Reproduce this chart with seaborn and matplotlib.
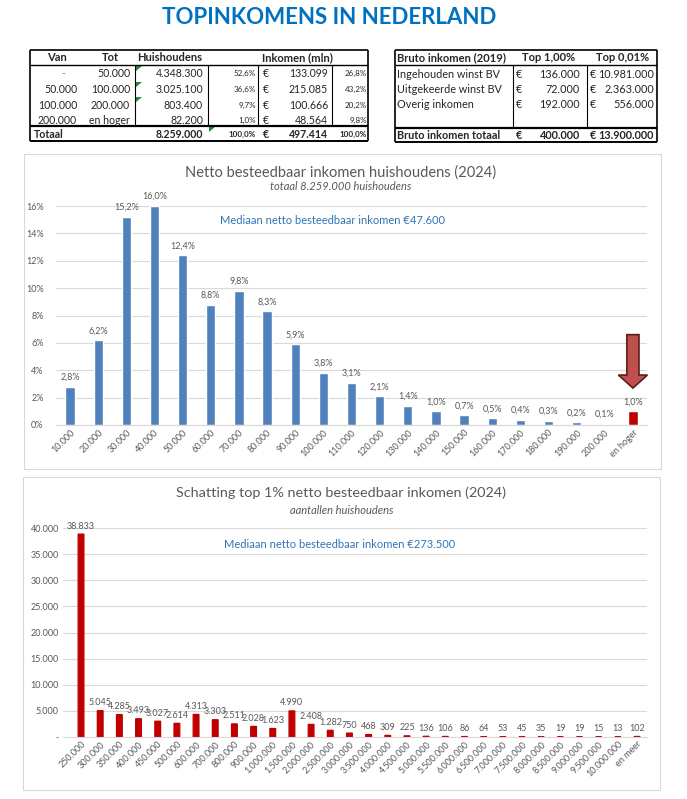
import matplotlib.pyplot as plt
import matplotlib.patches as mpatches
from matplotlib.ticker import FuncFormatter
import pandas as pd
import seaborn as sns

# figure size in pixels (dpi 100)
W, H = 687, 799

BLUE = "#4F81BD"
RED = "#C00000"
GRAY = "#595959"
GRID = "#D9D9D9"
NOTE_BLUE = "#2E75B6"

# left table: households and income per bracket
tbl_van = ["-", "50.000", "100.000", "200.000"]
tbl_tot = ["50.000", "100.000", "200.000", "en hoger"]
tbl_households = [4348300, 3025100, 803400, 82200]
tbl_income = [133099, 215085, 100666, 48564]

# right table: gross income 2019
bruto_labels = ["Ingehouden winst BV", "Uitgekeerde winst BV", "Overig inkomen"]
bruto_top1 = [136000, 72000, 192000]
bruto_top001 = [10981000, 2363000, 556000]

# chart 1: share of households per net income bracket (%)
income_labels = ["10.000", "20.000", "30.000", "40.000", "50.000", "60.000", "70.000",
                 "80.000", "90.000", "100.000", "110.000", "120.000", "130.000", "140.000",
                 "150.000", "160.000", "170.000", "180.000", "190.000", "200.000", "en hoger"]
income_share = [2.8, 6.2, 15.2, 16.0, 12.4, 8.8, 9.8, 8.3, 5.9, 3.8, 3.1, 2.1, 1.4, 1.0,
                0.7, 0.5, 0.4, 0.3, 0.2, 0.1, 1.0]

# chart 2: number of households in the top 1%
top_labels = ["250.000", "300.000", "350.000", "400.000", "450.000", "500.000", "600.000",
              "700.000", "800.000", "900.000", "1.000.000", "1.500.000", "2.000.000",
              "2.500.000", "3.000.000", "3.500.000", "4.000.000", "4.500.000", "5.000.000",
              "5.500.000", "6.000.000", "6.500.000", "7.000.000", "7.500.000", "8.000.000",
              "8.500.000", "9.000.000", "9.500.000", "10.000.000", "en meer"]
top_households = [38833, 5045, 4285, 3493, 3027, 2614, 4313, 3303, 2511, 2028, 1623, 4990,
                  2408, 1282, 750, 468, 309, 225, 136, 106, 86, 64, 53, 45, 35, 19, 19, 15,
                  13, 102]


def nl_int(v):
    return f"{v:,.0f}".replace(",", ".")


def nl_pct(v):
    return f"{v:.1f}%".replace(".", ",")


def hline(ax, x0, x1, y, lw=1.0):
    ax.plot([x0, x1], [y, y], color="black", lw=lw, solid_capstyle="butt")


def vline(ax, x, y0, y1, lw=0.8):
    ax.plot([x, x], [y0, y1], color="black", lw=lw, solid_capstyle="butt")


def draw_left_table(bg):
    fs = 7.6
    small = 5.8
    hline(bg, 30, 368, 50, 1.2)
    hline(bg, 30, 368, 65, 1.0)
    hline(bg, 30, 368, 126, 1.6)
    hline(bg, 30, 368, 141, 1.4)
    vline(bg, 30, 50, 141, 1.2)
    vline(bg, 368, 50, 141, 1.2)
    for x in [135, 208, 258, 332]:
        vline(bg, x, 65, 126)

    hy = 57.5
    bg.text(57, hy, "Van", ha="center", va="center", fontsize=8, fontweight="bold")
    bg.text(110, hy, "Tot", ha="center", va="center", fontsize=8, fontweight="bold")
    bg.text(170, hy, "Huishoudens", ha="center", va="center", fontsize=8, fontweight="bold")
    bg.text(297, hy, "Inkomen (mln)", ha="center", va="center", fontsize=8, fontweight="bold")

    total_hh = sum(tbl_households)
    total_inc = sum(tbl_income)
    rows_y = [73.3, 89.5, 105.3, 120.8]
    for i, y in enumerate(rows_y):
        if tbl_van[i] == "-":
            bg.text(63, y, "-", ha="center", va="center", fontsize=fs, color="#7F7F7F")
        else:
            bg.text(77, y, tbl_van[i], ha="right", va="center", fontsize=fs)
        bg.text(130, y, tbl_tot[i], ha="right", va="center", fontsize=fs)
        bg.text(203, y, nl_int(tbl_households[i]), ha="right", va="center", fontsize=fs)
        bg.text(256, y, nl_pct(100 * tbl_households[i] / total_hh), ha="right", va="center",
                fontsize=small)
        bg.text(263, y, "€", ha="left", va="center", fontsize=fs)
        bg.text(328, y, nl_int(tbl_income[i]), ha="right", va="center", fontsize=fs)
        bg.text(367, y, nl_pct(100 * tbl_income[i] / total_inc), ha="right", va="center",
                fontsize=small)

    ty = 134
    bg.text(34, ty, "Totaal", ha="left", va="center", fontsize=fs, fontweight="bold")
    bg.text(203, ty, nl_int(total_hh), ha="right", va="center", fontsize=fs, fontweight="bold")
    bg.text(256, ty, nl_pct(100.0), ha="right", va="center", fontsize=small, fontweight="bold")
    bg.text(263, ty, "€", ha="left", va="center", fontsize=fs, fontweight="bold")
    bg.text(328, ty, nl_int(total_inc), ha="right", va="center", fontsize=fs, fontweight="bold")
    bg.text(367, ty, nl_pct(100.0), ha="right", va="center", fontsize=small, fontweight="bold")

    # excel's little green error markers
    for x, y in [(136, 66), (136, 82), (136, 97), (209, 127)]:
        bg.add_patch(mpatches.Polygon([(x, y), (x + 6, y), (x, y + 5)], closed=True,
                                      color="#1E8C3A", lw=0))


def draw_right_table(bg):
    fs = 7.8
    hline(bg, 395, 657, 50, 1.2)
    hline(bg, 395, 657, 65, 1.0)
    hline(bg, 395, 657, 128, 1.6)
    hline(bg, 395, 657, 142, 1.4)
    vline(bg, 395, 50, 142, 1.2)
    vline(bg, 657, 50, 142, 1.2)
    for x in [513, 587]:
        vline(bg, x, 65, 128)

    hy = 57.5
    bg.text(397, hy, "Bruto inkomen (2019)", ha="left", va="center", fontsize=8, fontweight="bold")
    bg.text(549, hy, "Top 1,00%", ha="center", va="center", fontsize=8, fontweight="bold")
    bg.text(623, hy, "Top 0,01%", ha="center", va="center", fontsize=8, fontweight="bold")

    rows_y = [75, 89.5, 104]
    for i, y in enumerate(rows_y):
        bg.text(397, y, bruto_labels[i], ha="left", va="center", fontsize=fs)
        bg.text(516, y, "€", ha="left", va="center", fontsize=fs)
        bg.text(580, y, nl_int(bruto_top1[i]), ha="right", va="center", fontsize=fs)
        bg.text(590, y, "€", ha="left", va="center", fontsize=fs)
        bg.text(654, y, nl_int(bruto_top001[i]), ha="right", va="center", fontsize=fs)

    ty = 135.5
    bg.text(397, ty, "Bruto inkomen totaal", ha="left", va="center", fontsize=fs, fontweight="bold")
    bg.text(516, ty, "€", ha="left", va="center", fontsize=fs, fontweight="bold")
    bg.text(580, ty, nl_int(sum(bruto_top1)), ha="right", va="center", fontsize=fs, fontweight="bold")
    bg.text(590, ty, "€", ha="left", va="center", fontsize=fs, fontweight="bold")
    bg.text(654, ty, nl_int(sum(bruto_top001)), ha="right", va="center", fontsize=fs, fontweight="bold")


def style_axes(ax, pad):
    ax.set_facecolor("none")
    for side in ["top", "right", "left"]:
        ax.spines[side].set_visible(False)
    ax.spines["bottom"].set_color(GRID)
    ax.spines["bottom"].set_linewidth(0.8)
    ax.yaxis.grid(True, color=GRID, lw=0.8)
    ax.xaxis.grid(False)
    ax.set_axisbelow(True)
    ax.set_xlabel("")
    ax.set_ylabel("")
    ax.tick_params(axis="both", length=0, labelsize=6.5, labelcolor=GRAY)
    ax.tick_params(axis="y", pad=pad)
    ax.tick_params(axis="x", pad=2)
    for lbl in ax.get_xticklabels():
        lbl.set_rotation(45)
        lbl.set_ha("right")
        lbl.set_rotation_mode("anchor")


def plot_income_chart(fig):
    ax = fig.add_axes([56 / W, 1 - 425 / H, 591 / W, 219 / H])
    df = pd.DataFrame({"inkomen": income_labels, "aandeel": income_share})
    colors = [BLUE] * (len(income_labels) - 1) + [RED]
    sns.barplot(data=df, x="inkomen", y="aandeel", hue="inkomen", palette=colors,
                legend=False, width=0.33, saturation=1, ax=ax)
    ax.set_xlim(-0.5, len(income_labels) - 0.5)
    ax.set_ylim(0, 16)
    ax.set_yticks(range(0, 17, 2))
    ax.yaxis.set_major_formatter(FuncFormatter(lambda v, _: f"{v:.0f}%"))
    style_axes(ax, pad=9)

    for i, v in enumerate(income_share):
        ax.annotate(nl_pct(v), (i, v), xytext=(0, 3.5), textcoords="offset points",
                    ha="center", va="bottom", fontsize=6.5, color=GRAY, annotation_clip=False)

    # red block arrow pointing at the top bracket
    last = len(income_labels) - 1
    ax.add_patch(mpatches.FancyArrow(last, 6.6, 0, -3.9, width=0.43, head_width=1.03,
                                     head_length=0.95, length_includes_head=True,
                                     fc="#C0504D", ec="#5A1E1C", lw=1.2, clip_on=False,
                                     zorder=5))


def plot_top_chart(fig):
    ax = fig.add_axes([63 / W, 1 - 737 / H, 584 / W, 209 / H])
    df = pd.DataFrame({"inkomen": top_labels, "huishoudens": top_households})
    sns.barplot(data=df, x="inkomen", y="huishoudens", hue="inkomen",
                palette=[RED] * len(top_labels), legend=False, width=0.3, saturation=1,
                edgecolor=RED, linewidth=0.9, snap=False, ax=ax)
    ax.set_xlim(-0.94, len(top_labels) - 0.48)
    ax.set_ylim(0, 40000)
    ax.set_yticks(range(0, 40001, 5000))
    ax.yaxis.set_major_formatter(FuncFormatter(lambda v, _: "-" if v == 0 else nl_int(v)))
    style_axes(ax, pad=3)

    for i, v in enumerate(top_households):
        ax.annotate(nl_int(v), (i, v), xytext=(0, 2.5), textcoords="offset points",
                    ha="center", va="bottom", fontsize=6.5, color=GRAY, annotation_clip=False)


def main():
    sns.set_theme(style="white")
    plt.rcParams["font.family"] = ["Lato", "DejaVu Sans"]

    fig = plt.figure(figsize=(W / 100, H / 100), dpi=100)
    fig.patch.set_facecolor("white")

    bg = fig.add_axes([0, 0, 1, 1])
    bg.set_xlim(0, W)
    bg.set_ylim(H, 0)
    bg.axis("off")

    bg.text(329, 17.5, "TOPINKOMENS IN NEDERLAND", ha="center", va="center",
            fontsize=16, fontweight="bold", color="#0070C0")

    draw_left_table(bg)
    draw_right_table(bg)

    # chart panels
    bg.add_patch(mpatches.Rectangle((24, 154), 637, 315, fill=False, ec=GRID, lw=0.8))
    bg.add_patch(mpatches.Rectangle((23, 477), 637, 313, fill=False, ec=GRID, lw=0.8))

    bg.text(341, 173, "Netto besteedbaar inkomen huishoudens (2024)", ha="center", va="center",
            fontsize=10.5, color=GRAY)
    bg.text(341, 186, "totaal 8.259.000 huishoudens", ha="center", va="center",
            fontsize=8, style="italic", color=GRAY)
    bg.text(333, 221, "Mediaan netto besteedbaar inkomen €47.600", ha="center", va="center",
            fontsize=8, color=NOTE_BLUE)

    bg.text(341, 493, "Schatting top 1% netto besteedbaar inkomen (2024)", ha="center", va="center",
            fontsize=10.4, color=GRAY)
    bg.text(342, 510, "aantallen huishoudens", ha="center", va="center",
            fontsize=8, style="italic", color=GRAY)
    bg.text(340, 544, "Mediaan netto besteedbaar inkomen €273.500", ha="center", va="center",
            fontsize=8, color=NOTE_BLUE)

    plot_income_chart(fig)
    plot_top_chart(fig)

    fig.savefig("out.png", dpi=100, facecolor="white")


if __name__ == "__main__":
    main()
